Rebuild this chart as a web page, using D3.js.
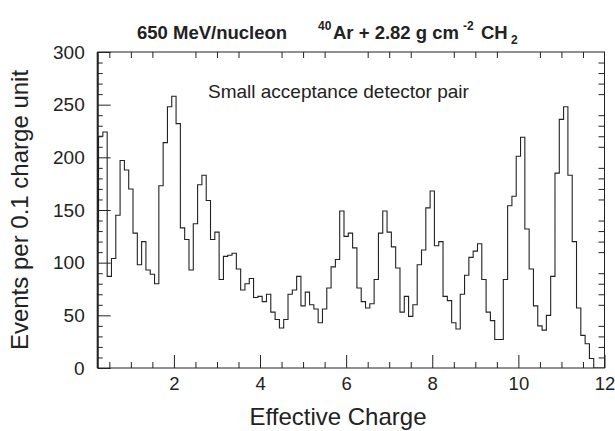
<!DOCTYPE html>
<html><head><meta charset="utf-8">
<script src="https://cdn.jsdelivr.net/npm/d3@7"></script>
<style>
body{margin:0;background:#fff}
svg text{font-family:"Liberation Sans",Arial,Helvetica,sans-serif;fill:#222}
</style>
</head><body>
<svg id="c" width="615" height="431"></svg>
<script>
// ---- data ----
const firstBinCenter = 0.2;
const binWidth = 0.1;
const counts = [
  131,220,224,87,104,145,197,188,170,128,
  98,120,93,89,80,173,214,248,258,232,
  133,122,93,137,174,183,159,122,129,84,
  106,107,109,94,74,80,85,67,68,63,
  70,53,46,38,46,70,74,87,59,72,
  60,56,43,56,76,96,103,149,125,128,
  114,76,63,57,61,84,128,149,129,115,
  95,53,68,49,60,98,112,152,168,116,
  120,68,64,43,37,70,88,105,111,118,
  84,53,45,27,27,84,154,163,201,219,
  132,94,59,40,36,50,87,185,236,248,
  183,120,57,31,23,9,0,0,0
];
const xMajorTicks = [2,4,6,8,10,12];
const xMinorTicks = [0.5,1,1.5,2.5,3,3.5,4.5,5,5.5,6.5,7,7.5,8.5,9,9.5,10.5,11,11.5];
const yMajorTicks = [0,50,100,150,200,250,300];
const yMinorTicks = [10,20,30,40,60,70,80,90,110,120,130,140,160,170,180,190,210,220,230,240,260,270,280,290];
const xDomain = [0.23,12];
const yDomain = [0,300];

// ---- chart ----
const svg = d3.select('#c');
const x = d3.scaleLinear().domain(xDomain).range([97.7,604.5]);
const y = d3.scaleLinear().domain(yDomain).range([368,52]);
const [x0,x1] = x.range(), [y0,y1] = y.range();
const ink = '#222';

svg.append('clipPath').attr('id','clip').append('rect')
  .attr('x',x0).attr('y',y1).attr('width',x1-x0).attr('height',y0-y1);

const pts = [];
counts.forEach((c,i)=>{
  const cc = firstBinCenter + i*binWidth;
  pts.push([cc-binWidth/2,c],[cc+binWidth/2,c]);
});
svg.append('path')
  .attr('d', d3.line().x(d=>x(d[0])).y(d=>y(d[1]))(pts))
  .attr('fill','none').attr('stroke',ink).attr('stroke-width',1.1)
  .attr('clip-path','url(#clip)');

function styleAxis(g){
  g.select('.domain').remove();
  g.selectAll('line').attr('stroke',ink).attr('stroke-width',1);
}
// left
svg.append('g').attr('transform',`translate(${x0},0)`)
  .call(d3.axisLeft(y).tickValues(yMajorTicks).tickSize(-13).tickPadding(13))
  .call(styleAxis)
  .call(g=>g.selectAll('text').attr('font-size',19).style('fill',ink));
svg.append('g').attr('transform',`translate(${x0},0)`)
  .call(d3.axisLeft(y).tickValues(yMinorTicks).tickSize(-5).tickFormat(''))
  .call(styleAxis);
// right
svg.append('g').attr('transform',`translate(${x1},0)`)
  .call(d3.axisRight(y).tickValues(yMinorTicks).tickSize(-6).tickFormat(''))
  .call(styleAxis);
// bottom
svg.append('g').attr('transform',`translate(0,${y0})`)
  .call(d3.axisBottom(x).tickValues(xMajorTicks).tickSize(-13).tickPadding(9))
  .call(styleAxis)
  .call(g=>g.selectAll('text').attr('font-size',18.5).style('fill',ink));
svg.append('g').attr('transform',`translate(0,${y0})`)
  .call(d3.axisBottom(x).tickValues(xMinorTicks).tickSize(-6).tickFormat(''))
  .call(styleAxis);
// top
svg.append('g').attr('transform',`translate(0,${y1})`)
  .call(d3.axisTop(x).tickValues(xMinorTicks).tickSize(-6).tickFormat(''))
  .call(styleAxis);

// frame
svg.append('rect').attr('x',x0).attr('y',y1).attr('width',x1-x0).attr('height',y0-y1)
  .attr('fill','none').attr('stroke',ink).attr('stroke-width',1);
svg.append('line').attr('x1',x0).attr('x2',x0).attr('y1',y1).attr('y2',y0)
  .attr('stroke',ink).attr('stroke-width',2);

// labels
svg.append('text').attr('x',338).attr('y',425).attr('text-anchor','middle')
  .attr('font-size',24).text('Effective Charge');
svg.append('text').attr('transform','translate(28,210) rotate(-90)').attr('text-anchor','middle')
  .attr('font-size',24).text('Events per 0.1 charge unit');
svg.append('text').attr('x',208).attr('y',98).attr('font-size',19)
  .text('Small acceptance detector pair');

// title
const t = svg.append('g').attr('font-weight','bold');
t.append('text').attr('x',137).attr('y',38.5).attr('font-size',18.5).text('650 MeV/nucleon');
t.append('text').attr('x',318).attr('y',30).attr('font-size',12).text('40');
t.append('text').attr('x',333).attr('y',38.5).attr('font-size',18.5).text('Ar + 2.82 g cm');
t.append('text').attr('x',463).attr('y',30).attr('font-size',12).text('-2');
t.append('text').attr('x',481).attr('y',38.5).attr('font-size',18.5).text('CH');
t.append('text').attr('x',511).attr('y',44).attr('font-size',12).text('2');
</script>
</body></html>
